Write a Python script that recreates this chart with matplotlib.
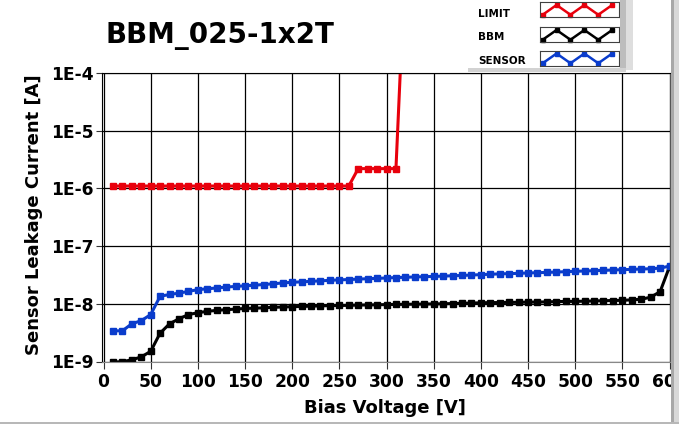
import numpy as np
import matplotlib
matplotlib.use('Agg')
import matplotlib.pyplot as plt
from matplotlib.patches import Rectangle

# bias voltage steps [V]
volts = list(range(10, 610, 10))

limit_v = list(range(10, 330, 10))
limit_i = [1.1e-6] * 26 + [2.2e-6] * 5 + [1e-2]

bbm_i = [0.98e-9, 0.99e-9, 1.07e-9, 1.2e-9, 1.5e-9, 3.1e-9, 4.5e-9, 5.5e-9, 6.5e-9, 7.0e-9,
         7.4e-9, 7.7e-9, 7.9e-9, 8.1e-9, 8.3e-9, 8.4e-9, 8.5e-9, 8.7e-9, 8.8e-9, 8.9e-9,
         9.0e-9, 9.1e-9, 9.2e-9, 9.3e-9, 9.35e-9, 9.4e-9, 9.5e-9, 9.55e-9, 9.6e-9, 9.7e-9,
         9.75e-9, 9.8e-9, 9.85e-9, 9.9e-9, 9.95e-9, 1.0e-8, 1.01e-8, 1.02e-8, 1.03e-8, 1.04e-8,
         1.05e-8, 1.05e-8, 1.06e-8, 1.06e-8, 1.07e-8, 1.07e-8, 1.08e-8, 1.09e-8, 1.1e-8, 1.1e-8,
         1.11e-8, 1.12e-8, 1.13e-8, 1.14e-8, 1.15e-8, 1.17e-8, 1.2e-8, 1.3e-8, 1.62e-8, 4.4e-8]

sensor_i = [3.4e-9, 3.4e-9, 4.5e-9, 5.1e-9, 6.5e-9, 1.35e-8, 1.45e-8, 1.53e-8, 1.64e-8, 1.76e-8,
            1.82e-8, 1.88e-8, 1.95e-8, 2.0e-8, 2.05e-8, 2.1e-8, 2.16e-8, 2.22e-8, 2.3e-8, 2.36e-8,
            2.4e-8, 2.45e-8, 2.5e-8, 2.55e-8, 2.6e-8, 2.63e-8, 2.68e-8, 2.72e-8, 2.76e-8, 2.8e-8,
            2.85e-8, 2.88e-8, 2.92e-8, 2.95e-8, 2.98e-8, 3.02e-8, 3.06e-8, 3.1e-8, 3.15e-8, 3.2e-8,
            3.25e-8, 3.3e-8, 3.33e-8, 3.37e-8, 3.42e-8, 3.46e-8, 3.5e-8, 3.55e-8, 3.6e-8, 3.66e-8,
            3.7e-8, 3.75e-8, 3.8e-8, 3.85e-8, 3.9e-8, 3.95e-8, 4.0e-8, 4.05e-8, 4.15e-8, 4.5e-8]

xticks = list(range(0, 650, 50))
yticks = [1e-9, 1e-8, 1e-7, 1e-6, 1e-5, 1e-4]
ylabels = ['1E-9', '1E-8', '1E-7', '1E-6', '1E-5', '1E-4']
legend_names = ['LIMIT', 'BBM', 'SENSOR']

RED = '#e8000c'
BLUE = '#0a3ccc'

W, H = 679, 425
fig = plt.figure(figsize=(W / 100, H / 100), dpi=100)
fig.patch.set_facecolor('white')


def px(x0, y0, w, h, **kw):
    # rectangle in pixel coords (origin top-left)
    r = Rectangle((x0 / W, 1 - (y0 + h) / H), w / W, h / H, transform=fig.transFigure, **kw)
    fig.add_artist(r)
    return r


ax = fig.add_axes([102 / W, 1 - 361.5 / H, 568 / W, 288.5 / H])
ax.set_yscale('log')

l1, = ax.plot(limit_v, limit_i, color=RED, lw=2.2, marker='s', ms=4.5)
l2, = ax.plot(volts, bbm_i, color='black', lw=2.2, marker='s', ms=4.5)
l3, = ax.plot(volts, sensor_i, color=BLUE, lw=2.2, marker='s', ms=4.5)

ax.set_xlim(-1.6, 600.5)
ax.set_ylim(1e-9, 1e-4)
ax.set_xticks(xticks)
ax.set_xticklabels([str(t) for t in xticks])
ax.set_yticks(yticks)
ax.set_yticklabels(ylabels)
ax.yaxis.set_minor_locator(matplotlib.ticker.NullLocator())
ax.grid(True, color='black', lw=0.9)
ax.set_axisbelow(True)
ax.tick_params(axis='x', length=5, width=0.8, pad=3.5, labelsize=12.3, color='#333333')
ax.tick_params(axis='y', length=4, width=0.8, pad=2, labelsize=12.3, color='#333333')
for lab in ax.get_xticklabels() + ax.get_yticklabels():
    lab.set_fontweight('bold')
ax.spines['left'].set_color('black')
ax.spines['top'].set_color('black')
ax.spines['bottom'].set_color('#888888')
ax.spines['right'].set_color('#555555')

fig.text(106 / W, 1 - 43.3 / H, 'BBM_025-1x2T', fontsize=20, fontweight='bold',
         ha='left', va='baseline')
fig.text(385 / W, 1 - 413 / H, 'Bias Voltage [V]', fontsize=13, fontweight='bold',
         ha='center', va='baseline')
fig.text(34 / W, 1 - 215 / H, 'Sensor Leakage Current [A]', fontsize=13, fontweight='bold',
         ha='center', va='center', rotation=90)

# legend: label on the left, boxed zigzag swatch on the right
text_base = [17, 40, 64.5]
box_top = [2, 27, 50.5]
for name, line, yb, yt in zip(legend_names, [l1, l2, l3], text_base, box_top):
    fig.text(478 / W, 1 - yb / H, name, fontsize=7.5, fontweight='bold',
             ha='left', va='baseline')
    sw = fig.add_axes([539.5 / W, 1 - (yt + 15) / H, 79 / W, 15 / H])
    zx = np.linspace(0.04, 0.92, 6)
    zy = np.array([0.15, 0.8, 0.15, 0.8, 0.15, 0.8])
    sw.plot(zx, zy, color=line.get_color(), lw=1.8, marker='s', ms=3.2, clip_on=False)
    sw.set_xlim(0, 1)
    sw.set_ylim(0, 1)
    sw.set_xticks([])
    sw.set_yticks([])
    for s in sw.spines.values():
        s.set_color('#404040')
        s.set_linewidth(0.8)

# legend panel shadows
px(620, 0, 6, 70, facecolor='#bdbdbd', edgecolor='none', zorder=5)
px(626, 0, 7, 70, facecolor='#dedede', edgecolor='none', zorder=5)
px(468, 68, 158, 4, facecolor='#d2d2d2', edgecolor='none', zorder=5)

# right scroll bar and bottom border
px(670.5, 0, 3, 423, facecolor='#a8a8a8', edgecolor='none', zorder=5)
px(673.5, 0, 5.5, 423, facecolor='#d8d8d8', edgecolor='none', zorder=5)
px(0, 422, 679, 2, facecolor='#b8b8b8', edgecolor='none', zorder=5)

fig.savefig('out.png', dpi=100)
